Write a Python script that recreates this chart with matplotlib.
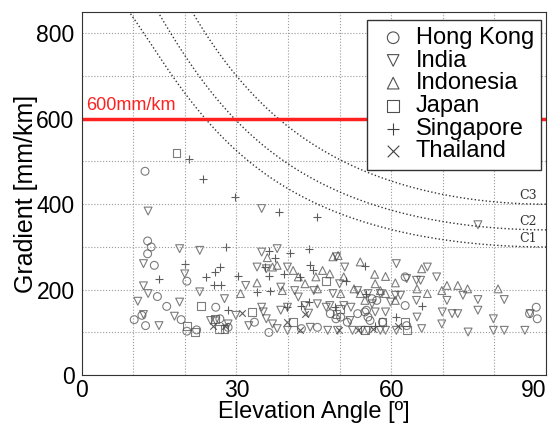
import numpy as np
import matplotlib.pyplot as plt
from matplotlib.ticker import MultipleLocator

plt.rcParams['font.family'] = ['Liberation Sans', 'DejaVu Sans']

# elevation angle [deg], gradient [mm/km]
hk_el = [10.2, 12.3, 12.8, 13.5, 12.8, 14.1, 14.7, 16.5, 12.4, 11.7, 20.4, 19.3, 20.4, 22.3,
         26.0, 26.8, 28.4, 33.5, 36.3, 42.6, 45.7, 48.2, 49.3, 50.2, 51.5, 53.5, 55.2, 55.5,
         56.3, 57.2, 58.3, 62.7, 62.7, 63.0, 88.1, 86.8, 88.3, 54.9, 55.9]
hk_gr = [130, 477, 314, 300, 284, 257, 184, 161, 116, 140, 220, 130, 103, 106,
         159, 132, 112, 124, 100, 109, 112, 144, 132, 136, 124, 144, 152, 136,
         179, 175, 124, 163, 230, 116, 159, 144, 132, 148, 128]

in_el = [12.9, 34.9, 76.8, 10.9, 12.0, 12.9, 12.0, 12.0, 15.0, 18.0, 19.0, 19.0, 20.0, 22.9,
         22.9, 26.0, 27.7, 31.8, 34.0, 34.9, 34.9, 35.8, 37.9, 35.8, 37.0, 39.9, 38.6, 42.0,
         44.0, 45.0, 45.7, 48.1, 49.4, 50.0, 47.7, 51.0, 52.0, 52.5, 53.5, 55.5, 57.9, 58.9,
         57.9, 61.0, 61.8, 61.0, 63.0, 64.9, 65.7, 64.9, 65.9, 65.0, 67.0, 68.8, 69.8, 69.9,
         70.8, 71.8, 72.9, 73.9, 76.8, 76.8, 74.9, 79.8, 79.8, 81.9, 81.9, 85.9, 86.9, 60.8,
         56.3, 55.5, 52.2, 49.6, 47.4, 39.9, 37.9, 32.4, 28.4, 25.0, 29.9, 35.2, 38.6, 41.3,
         39.9, 44.3, 43.3, 54.2, 59.9, 56.9, 58.9, 50.8, 48.7]
in_gr = [384, 390, 352, 173, 209, 191, 261, 142, 116, 138, 296, 171, 237, 292,
         195, 127, 179, 210, 253, 288, 159, 249, 296, 132, 120, 253, 206, 183,
         145, 198, 167, 163, 277, 214, 105, 253, 128, 105, 198, 191, 191, 148,
         105, 261, 187, 105, 226, 222, 222, 175, 109, 136, 253, 230, 120, 148,
         175, 144, 144, 187, 177, 152, 101, 132, 105, 177, 105, 105, 144, 187,
         167, 105, 159, 105, 159, 105, 109, 116, 120, 128, 140, 148, 152, 198,
         159, 112, 163, 105, 171, 148, 105, 163, 191]

id_el = [30.8, 34.0, 36.0, 37.9, 38.9, 41.0, 42.0, 45.4, 46.7, 48.7, 49.7, 50.8, 54.0, 54.0,
         56.8, 56.9, 58.9, 57.9, 60.8, 60.8, 65.0, 65.9, 67.0, 70.8, 72.9, 74.8, 80.7, 69.8,
         45.7, 43.3, 37.0, 54.9, 58.9, 52.8, 50.2, 48.1]
id_gr = [191, 216, 275, 257, 198, 245, 230, 230, 245, 277, 280, 230, 265, 191,
         236, 214, 231, 198, 175, 216, 202, 249, 191, 210, 210, 202, 202, 198,
         202, 214, 253, 175, 191, 202, 191, 237]

jp_el = [18.4, 23.1, 20.4, 21.9, 25.8, 27.7, 33.0, 47.3, 50.0, 58.3, 62.7, 49.4, 40.9, 54.9,
         63.0, 26.7]
jp_gr = [519, 161, 116, 102, 132, 109, 148, 220, 155, 124, 124, 144, 124, 105,
         105, 109]

sg_el = [20.9, 23.5, 29.7, 38.2, 45.6, 28.0, 36.4, 40.3, 44.0, 20.0, 15.1, 24.2, 26.8, 25.8,
         25.7, 27.1, 30.4, 35.6, 36.3, 37.5, 39.2, 42.3, 44.3, 44.9, 51.3, 54.9, 55.2, 66.0,
         33.9, 36.5, 28.4, 44.0, 49.1, 61.0, 56.8, 39.9, 42.6]
sg_gr = [505, 460, 417, 382, 369, 300, 291, 287, 296, 261, 226, 230, 253, 241,
         210, 212, 231, 253, 232, 275, 237, 230, 257, 247, 220, 255, 191, 161,
         195, 198, 152, 171, 159, 136, 116, 159, 163]

th_el = [31.1, 25.5, 42.3, 56.4, 39.8, 27.7, 49.8, 61.3, 43.3, 53.5]
th_gr = [145, 114, 105, 109, 124, 116, 105, 116, 144, 105]

# thresholds at zenith for the curves C1..C3 [mm/km]
curve_names = ['C1', 'C2', 'C3']
curve_zenith = [300, 340, 400]
limit = 600

fig = plt.figure(figsize=(5.51, 4.23), dpi=100)
ax = fig.add_axes([0.148, 0.113, 0.843, 0.859])

mk = dict(facecolors='none', s=32, linewidths=0.8, alpha=0.75)
ax.scatter(hk_el, hk_gr, marker='o', edgecolors='#505050', label='Hong Kong', **mk)
ax.scatter(in_el, in_gr, marker='v', edgecolors='#505050', label='India', **mk)
ax.scatter(id_el, id_gr, marker='^', edgecolors='#505050', label='Indonesia', **mk)
ax.scatter(jp_el, jp_gr, marker='s', edgecolors='#505050', label='Japan', **mk)
ax.scatter(sg_el, sg_gr, marker='+', c='#404040', s=32, linewidths=0.8, alpha=0.85, label='Singapore')
ax.scatter(th_el, th_gr, marker='x', c='#404040', s=22, linewidths=0.8, alpha=0.85, label='Thailand')

# obliquity factor, thin shell at 350 km
el = np.linspace(1, 90, 400)
ratio = 6371.0 / (6371.0 + 350.0)
obl = 1.0 / np.sqrt(1 - (ratio * np.cos(np.radians(el))) ** 2)
for name, z in zip(curve_names, curve_zenith):
    ax.plot(el, z * obl, ls=':', color='#333333', lw=1.0)
    ax.text(86.5, z + 20, name, fontsize=9, color='#333333', family='DejaVu Serif',
            ha='center', va='center')

ax.axhline(limit, color='#ff2020', lw=2.5)
ax.text(0.8, limit + 10, '600mm/km', color='#ff2020', fontsize=13, va='bottom')

ax.set_xlim(0, 90)
ax.set_ylim(0, 850)
ax.xaxis.set_major_locator(MultipleLocator(30))
ax.xaxis.set_minor_locator(MultipleLocator(10))
ax.yaxis.set_major_locator(MultipleLocator(200))
ax.yaxis.set_minor_locator(MultipleLocator(100))
ax.grid(which='both', ls=':', color='#999999', lw=0.8)
ax.tick_params(which='both', direction='in', length=0, labelsize=16.5)
ax.tick_params(axis='x', pad=3)
ax.tick_params(axis='y', pad=5)
for s in ax.spines.values():
    s.set_color('#333333')

# keep the "90" label inside the figure
ax.set_xticks([0, 30, 60, 90])
ax.xaxis.get_major_ticks()[-1].label1.set_horizontalalignment('right')

ax.set_xlabel('Elevation Angle [º]', fontsize=17, labelpad=-1)
ax.set_ylabel('Gradient [mm/km]', fontsize=18, labelpad=-1)

leg = ax.legend(loc='upper right', fontsize=17, frameon=True, fancybox=False,
                edgecolor='#333333', framealpha=1, labelspacing=0.03, handletextpad=0.15,
                borderpad=0.3, handlelength=1.6, borderaxespad=0,
                bbox_to_anchor=(0.989, 0.978))
leg.get_frame().set_linewidth(1.0)
for h in leg.legend_handles:
    h.set_alpha(1)
    h.set_sizes([70])

fig.savefig('out.png', dpi=100)
